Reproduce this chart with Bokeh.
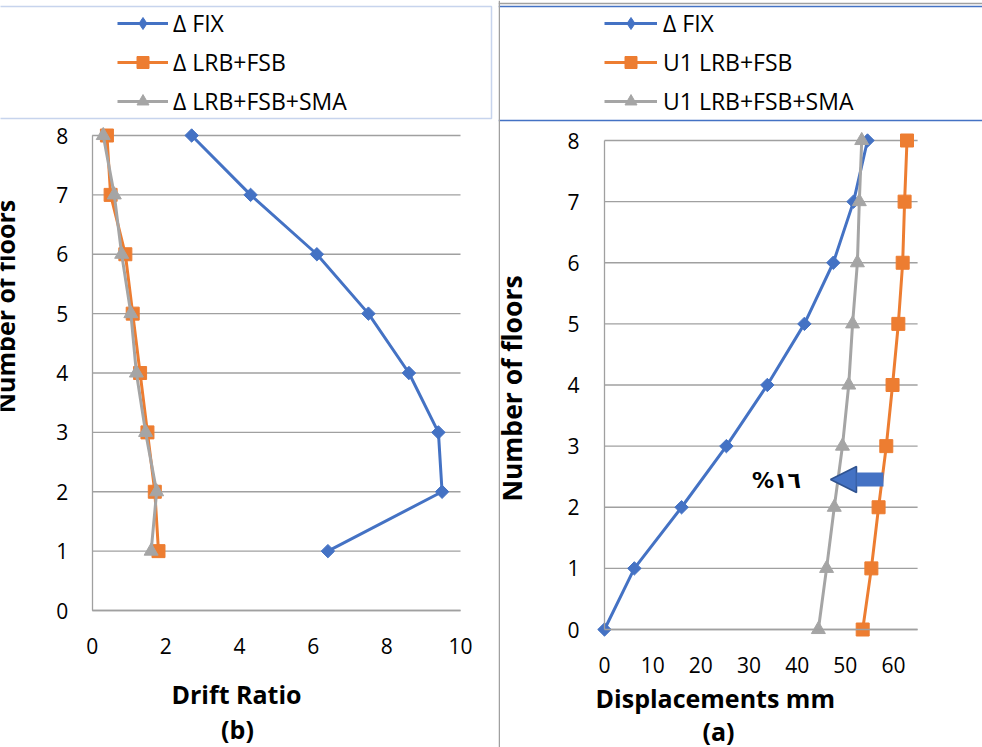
import math
from bokeh.plotting import figure
from bokeh.models import (Range1d, FixedTicker, Legend, LegendItem, Span, Label,
                          Arrow, NormalHead, BoxAnnotation)
from bokeh.layouts import row
from bokeh.embed import file_html
from bokeh.resources import INLINE

# ---------------- data ----------------
floors_b = [1, 2, 3, 4, 5, 6, 7, 8]
drift_fix = [6.4, 9.5, 9.4, 8.6, 7.5, 6.1, 4.3, 2.7]
drift_lrb = [1.8, 1.7, 1.5, 1.3, 1.1, 0.9, 0.5, 0.4]
drift_sma = [1.6, 1.75, 1.45, 1.2, 1.05, 0.8, 0.6, 0.3]

floors_a = [0, 1, 2, 3, 4, 5, 6, 7, 8]
disp_fix = [0, 6.2, 16.0, 25.3, 33.8, 41.5, 47.5, 51.7, 54.6]
disp_lrb = [53.6, 55.4, 56.9, 58.5, 59.8, 61.0, 61.9, 62.3, 62.8]
disp_sma = [44.4, 46.1, 47.7, 49.4, 50.7, 51.5, 52.5, 52.9, 53.4]

labels_b = ["Δ FIX", "Δ LRB+FSB", "Δ LRB+FSB+SMA"]
labels_a = ["Δ FIX", "U1 LRB+FSB", "U1 LRB+FSB+SMA"]

ticks_y = [0, 1, 2, 3, 4, 5, 6, 7, 8]
ticks_x_b = [0, 2, 4, 6, 8, 10]
ticks_x_a = [0, 10, 20, 30, 40, 50, 60]
xmax_b = 10
xmax_a = 65
ymax = 8

BLUE = "#4472C4"
ORANGE = "#ED7D31"
GRAY = "#A5A5A5"
GRID = "#A0A0A0"
FONT = "Open Sans"
H = 747

styles = [
    dict(color=BLUE, marker="square", size=9.5, angle=math.pi / 4),
    dict(color=ORANGE, marker="square", size=13, angle=0),
    dict(color=GRAY, marker="triangle", size=14, angle=0),
]


class Geo:
    """pixel layout of one panel: where data 0 sits and pixels per unit"""
    def __init__(self, w, x0, sx, y0, sy):
        self.w, self.x0, self.sx, self.y0, self.sy = w, x0, sx, y0, sy

    def bx(self, px):
        return (px - self.x0) / self.sx

    def by(self, py):
        return (self.y0 - py) / self.sy


def make_panel(g, xticks, xmax, xs_list, ys, labels, leg_x, glyph_w, standoff,
               xstand, ystand):
    p = figure(width=g.w, height=H, x_range=Range1d(g.bx(0), g.bx(g.w)),
               y_range=Range1d(g.by(H), g.by(0)), toolbar_location=None,
               output_backend="svg", title=None, min_border=0, min_border_left=0,
               min_border_right=0, min_border_top=0, min_border_bottom=0)
    p.outline_line_color = None
    p.xgrid.visible = False
    p.ygrid.visible = False
    p.xaxis.ticker = FixedTicker(ticks=xticks)
    p.yaxis.ticker = FixedTicker(ticks=ticks_y)
    p.xaxis.fixed_location = 0
    p.yaxis.fixed_location = 0
    p.xaxis.bounds = (0, xmax)
    p.yaxis.bounds = (0, ymax)
    for ax in p.axis:
        ax.major_tick_line_color = None
        ax.minor_tick_line_color = None
        ax.major_tick_out = 0
        ax.major_tick_in = 0
        ax.axis_line_color = GRID
        ax.axis_line_width = 1.3
        ax.major_label_text_font = FONT
        ax.major_label_text_font_size = "21px"
        ax.major_label_text_color = "#000000"
    p.xaxis.major_label_standoff = xstand
    p.yaxis.major_label_standoff = ystand

    # horizontal gridlines at the y ticks, across the x axis extent
    p.segment(x0=[0] * len(ticks_y), y0=ticks_y, x1=[xmax] * len(ticks_y), y1=ticks_y,
              line_color=GRID, line_width=1.3)

    items = []
    for i, (xs, st, lab) in enumerate(zip(xs_list, styles, labels)):
        l = p.line(xs, ys, line_color=st["color"], line_width=3)
        s = p.scatter(xs, ys, marker=st["marker"], size=st["size"], angle=st["angle"],
                      fill_color=st["color"], line_color=st["color"])
        if i == 0:
            # legend swatch: a diamond (legend swatches ignore marker rotation)
            s = p.scatter(xs, ys, marker="diamond", size=17, fill_color=st["color"],
                          line_color=st["color"], visible=False)
        items.append(LegendItem(label=lab, renderers=[l, s]))

    # legend: rows centred near y = 26, 63, 100 px
    leg = Legend(items=items, location=(leg_x, H - 13 - 104), padding=0, margin=0,
                 spacing=7, glyph_width=glyph_w, glyph_height=30, label_height=30,
                 label_standoff=standoff, border_line_alpha=0, background_fill_alpha=0,
                 inactive_fill_alpha=0,
                 label_text_font=FONT, label_text_font_size="23px",
                 label_text_color="#000000")
    p.add_layout(leg)
    return p


def title_label(p, x, y, text, angle=0.0, size="25px"):
    p.add_layout(Label(x=x, y=y, text=text, angle=angle, text_align="center",
                       text_baseline="middle", text_font=FONT,
                       text_font_style="bold", text_font_size=size,
                       text_color="#000000"))


# ---------------- left panel (b) ----------------
gb = Geo(w=498, x0=91.7, sx=36.83, y0=610.0, sy=59.375)
pb = make_panel(gb, ticks_x_b, xmax_b, [drift_fix, drift_lrb, drift_sma], floors_b,
                labels_b, 117, 51, 5, 27, 24)
pb.add_layout(BoxAnnotation(left=gb.bx(-5), right=gb.bx(491), top=gb.by(6), bottom=gb.by(118),
                            fill_alpha=0, line_color=BLUE, line_width=1.5))
title_label(pb, gb.bx(4), gb.by(306), "Number of floors", angle=math.pi / 2)
title_label(pb, gb.bx(236), gb.by(693), "Drift Ratio")
title_label(pb, gb.bx(237), gb.by(728), "(b)")

# ---------------- right panel (a) ----------------
ga = Geo(w=484, x0=106.0, sx=4.817, y0=629.0, sy=61.125)
pa = make_panel(ga, ticks_x_a, xmax_a, [disp_fix, disp_lrb, disp_sma], floors_a,
                labels_a, 106, 53, 6, 27, 25)
pa.add_layout(Span(location=ga.by(3), dimension="width", line_color="#A0A0A0", line_width=1.5))
pa.add_layout(Span(location=ga.by(6), dimension="width", line_color=BLUE, line_width=1.5))
pa.add_layout(Span(location=ga.by(120), dimension="width", line_color=BLUE, line_width=1.5))
pa.add_layout(Span(location=ga.bx(0.75), dimension="height", line_color="#A0A0A0",
                   line_width=1.5))
title_label(pa, ga.bx(13), ga.by(388), "Number of floors", angle=math.pi / 2, size="26.5px")
title_label(pa, ga.bx(220), ga.by(697), "Displacements  mm")
title_label(pa, ga.bx(220), ga.by(730), "(a)")
pa.add_layout(Arrow(end=NormalHead(size=26, fill_color=BLUE, line_color="#2F528F",
                                   line_width=1.5),
                    x_start=ga.bx(385), y_start=ga.by(479), x_end=ga.bx(332), y_end=ga.by(479),
                    line_color=BLUE, line_width=14))
pa.add_layout(Label(x=ga.bx(278), y=ga.by(480), text="%١٦", text_align="center",
                    text_baseline="middle", text_font="DejaVu Sans",
                    text_font_style="bold", text_font_size="22px", text_color="#000000"))

layout = row(pb, pa, spacing=0)

open("out.html", "w").write(file_html(layout, INLINE))
